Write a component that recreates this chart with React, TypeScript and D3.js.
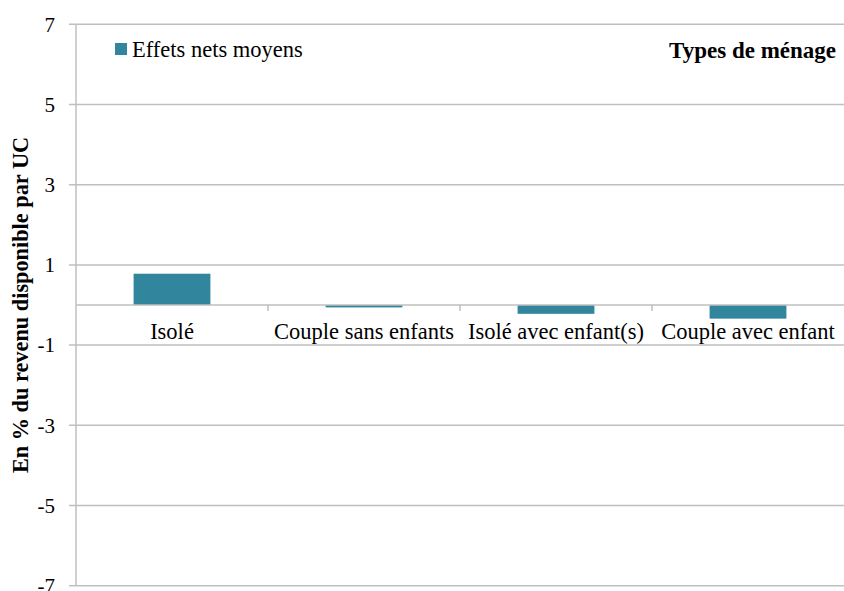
import React from "react";
import * as d3 from "d3";

const categories = ["Isolé", "Couple sans enfants", "Isolé avec enfant(s)", "Couple avec enfant"];
const values = [0.78, -0.06, -0.22, -0.34];
const yTicks = [-7, -5, -3, -1, 1, 3, 5, 7];
const seriesName = "Effets nets moyens";
const legendTitle = "Types de ménage";
const yTitle = "En % du revenu disponible par UC";

const W = 844, H = 591;
const left = 76, right = 844, top = 24.3, bottom = 585.7;
const FONT = "'Liberation Serif', serif";
const BAR = "#31859C";
const GRID = "#BFBFBF";

export default function App() {
  const y = d3.scaleLinear().domain([-7, 7]).range([bottom, top]);
  const x = d3.scaleBand().domain(categories).range([left, right]).paddingInner(0.6).paddingOuter(0.3);
  const xb = d3.scaleBand().domain(categories).range([left, right]);
  const y0 = y(0);
  return (
    <div style={{ position: "fixed", left: 0, top: 0 }}>
      <svg width={W} height={H} style={{ display: "block", background: "#fff" }}>
        {yTicks.map((t) => (
          <g key={t}>
            <line x1={69} x2={right} y1={y(t)} y2={y(t)} stroke={GRID} strokeWidth={1.5} />
            <text x={55} y={y(t)} dy="0.35em" textAnchor="end" fontFamily={FONT} fontSize={21} fill="#000">
              {t}
            </text>
          </g>
        ))}
        {categories.map((c, i) => (
          <rect
            key={c}
            x={x(c)}
            width={x.bandwidth()}
            y={Math.min(y(values[i]), y0)}
            height={Math.abs(y(values[i]) - y0)}
            fill={BAR}
          />
        ))}
        <line x1={left} x2={right} y1={y0} y2={y0} stroke={GRID} strokeWidth={1.5} />
        {categories.slice(1).map((c) => (
          <line key={c} x1={xb(c)} x2={xb(c)} y1={y0} y2={y0 + 6} stroke={GRID} strokeWidth={1.5} />
        ))}
        <line x1={left} x2={left} y1={top} y2={bottom} stroke={GRID} strokeWidth={1.5} />
        {categories.map((c) => (
          <text key={c} x={(xb(c) as number) + xb.bandwidth() / 2} y={339} textAnchor="middle" fontFamily={FONT} fontSize={22.5} fill="#000">
            {c}
          </text>
        ))}
        <rect x={115} y={43} width={12} height={12} fill={BAR} />
        <text x={132} y={57} fontFamily={FONT} fontSize={22.5} fill="#000">{seriesName}</text>
        <text x={836} y={58} textAnchor="end" fontFamily={FONT} fontSize={23} fontWeight="bold" fill="#000">{legendTitle}</text>
        <text
          transform={`translate(28, ${y0}) rotate(-90)`}
          textAnchor="middle"
          fontFamily={FONT}
          fontSize={22.3}
          fontWeight="bold"
          fill="#000"
        >
          {yTitle}
        </text>
      </svg>
    </div>
  );
}
